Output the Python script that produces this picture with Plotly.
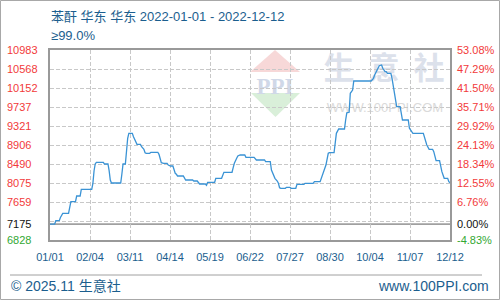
import plotly.graph_objects as go
import pandas as pd
import numpy as np

# ---------------- data ----------------
dates = [
    "2022-01-01", "2022-01-05", "2022-01-06", "2022-01-09", "2022-01-10", "2022-01-11",
    "2022-01-12", "2022-01-17", "2022-01-18", "2022-01-19", "2022-01-23", "2022-01-24",
    "2022-01-27", "2022-01-28", "2022-02-06", "2022-02-07", "2022-02-08", "2022-02-09",
    "2022-02-10", "2022-02-16", "2022-02-17", "2022-02-20", "2022-02-21", "2022-02-22",
    "2022-02-23", "2022-03-03", "2022-03-04", "2022-03-05", "2022-03-07", "2022-03-08",
    "2022-03-09", "2022-03-10", "2022-03-13", "2022-03-14", "2022-03-15", "2022-03-16",
    "2022-03-17", "2022-03-20", "2022-03-21", "2022-03-23", "2022-03-24", "2022-03-25",
    "2022-03-28", "2022-03-29", "2022-04-04", "2022-04-05", "2022-04-06", "2022-04-07",
    "2022-04-09", "2022-04-12", "2022-04-13", "2022-04-15", "2022-04-17", "2022-04-18",
    "2022-04-19", "2022-04-20", "2022-04-21", "2022-04-26", "2022-04-27", "2022-04-28",
    "2022-05-04", "2022-05-05", "2022-05-08", "2022-05-09", "2022-05-10", "2022-05-15",
    "2022-05-16", "2022-05-17", "2022-05-23", "2022-05-24", "2022-05-29", "2022-05-31",
    "2022-06-07", "2022-06-08", "2022-06-09", "2022-06-11", "2022-06-12", "2022-06-14",
    "2022-06-18", "2022-06-19", "2022-06-26", "2022-06-28", "2022-07-05", "2022-07-06",
    "2022-07-10", "2022-07-11", "2022-07-12", "2022-07-14", "2022-07-16", "2022-07-17",
    "2022-07-18", "2022-07-19", "2022-07-23", "2022-07-24", "2022-07-27", "2022-07-28",
    "2022-08-01", "2022-08-02", "2022-08-08", "2022-08-09", "2022-08-16", "2022-08-17",
    "2022-08-22", "2022-08-23", "2022-08-25", "2022-08-27", "2022-08-29", "2022-08-30",
    "2022-09-03", "2022-09-04", "2022-09-05", "2022-09-07", "2022-09-12", "2022-09-13",
    "2022-09-14", "2022-09-16", "2022-09-17", "2022-09-19", "2022-09-20", "2022-10-05",
    "2022-10-07", "2022-10-08", "2022-10-10", "2022-10-12", "2022-10-14", "2022-10-15",
    "2022-10-17", "2022-10-18", "2022-10-19", "2022-10-22", "2022-10-23", "2022-10-24",
    "2022-10-25", "2022-10-27", "2022-10-30", "2022-10-31", "2022-11-01", "2022-11-06",
    "2022-11-07", "2022-11-09", "2022-11-10", "2022-11-19", "2022-11-20", "2022-11-21",
    "2022-11-22", "2022-11-24", "2022-11-27", "2022-11-28", "2022-11-29", "2022-11-30",
    "2022-12-03", "2022-12-04", "2022-12-05", "2022-12-06", "2022-12-07", "2022-12-10",
    "2022-12-11", "2022-12-12",
]
prices = [
    7175, 7175, 7250, 7250, 7320, 7370,
    7410, 7410, 7520, 7666, 7666, 7790,
    7790, 7937, 7937, 8068, 8343, 8490,
    8527, 8527, 8490, 8490, 8343, 8140,
    8075, 8075, 8271, 8490, 8490, 8781,
    9052, 9161, 9161, 9087, 9030, 8965,
    8921, 8921, 8868, 8811, 8737, 8724,
    8724, 8746, 8746, 8702, 8615, 8518,
    8505, 8505, 8468, 8446, 8446, 8359,
    8287, 8265, 8228, 8228, 8177, 8140,
    8140, 8118, 8118, 8068, 8053, 8053,
    8024, 8090, 8090, 8177, 8177, 8309,
    8309, 8409, 8505, 8615, 8665, 8687,
    8687, 8637, 8637, 8578, 8578, 8540,
    8540, 8359, 8309, 8177, 8118, 8068,
    7972, 7959, 7959, 7980, 7980, 7959,
    7959, 8046, 8046, 8068, 8068, 8103,
    8103, 8177, 8343, 8468, 8724, 8737,
    8737, 8978, 9161, 9255, 9255, 9452,
    9610, 9620, 10036, 10108, 10305, 10305,
    10364, 10436, 10546, 10640, 10655, 10583,
    10508, 10508, 10473, 10473, 10364, 10180,
    10036, 9743, 9743, 9562, 9452, 9452,
    9271, 9196, 9161, 9161, 9087, 8978,
    8906, 8811, 8811, 8759, 8650, 8562,
    8562, 8396, 8322, 8249, 8177, 8177,
    8103, 8080,
]

base_price = 7175
y_min, y_max = 6828, 10983
left_tick_vals = [10983, 10568, 10152, 9737, 9321, 8906, 8490, 8075, 7659, 7175, 6828]
left_tick_text = ["10983", "10568", "10152", "9737", "9321", "8906", "8490", "8075", "7659", "7175", "6828"]
right_tick_text = ["53.08%", "47.29%", "41.50%", "35.71%", "29.92%", "24.13%", "18.34%",
                   "12.55%", "6.76%", "0.00%", "-4.83%"]
x_tick_text = ["01/01", "02/04", "03/11", "04/14", "05/19", "06/22", "07/27",
               "08/30", "10/04", "11/07", "12/12"]
start_date, end_date = "2022-01-01", "2022-12-12"

title_line1 = "苯酐 华东 华东 2022-01-01 - 2022-12-12"
title_line2 = "≥99.0%"
footer_left = "© 2025.11 生意社"
footer_right = "www.100PPI.com"

# ---------------- figure ----------------
W, H = 500, 300
ML, MR, MT, MB = 50, 50, 50, 60
PW, PH = W - ML - MR, H - MT - MB


def px(x):  # pixel x -> paper x
    return (x - ML) / PW


def py(y):  # pixel y -> paper y
    return (H - MB - y) / PH


BLUE = "#1b5e8e"
RED = "#f23a3a"
GREEN = "#33a833"
GRID = "#c8c8c8"
FONT = "Liberation Sans, Noto Sans CJK SC, sans-serif"

t0, t1 = pd.Timestamp(start_date), pd.Timestamp(end_date)
x_tick_vals = [t0 + (t1 - t0) * k / (len(x_tick_text) - 1) for k in range(len(x_tick_text))]
grid_vals = list(np.linspace(y_min, y_max, 11))

fig = go.Figure()
fig.add_trace(go.Scatter(
    x=pd.to_datetime(dates), y=prices, mode="lines",
    line=dict(color="#3a93d5", width=1.3),
    hoverinfo="skip", showlegend=False,
))

shapes = []
# outer border
shapes.append(dict(type="rect", xref="paper", yref="paper",
                   x0=px(0.5), x1=px(W - 0.5), y0=py(H - 0.5), y1=py(0.5),
                   line=dict(color="#a8a8a8", width=1), fillcolor="rgba(0,0,0,0)", layer="below"))
# footer separator
shapes.append(dict(type="line", xref="paper", yref="paper",
                   x0=px(10), x1=px(482), y0=py(275), y1=py(275),
                   line=dict(color="#a0a0a0", width=1)))
# base line
shapes.append(dict(type="line", xref="paper", yref="y", x0=0, x1=1,
                   y0=base_price, y1=base_price, line=dict(color="#a0a0a0", width=1.6),
                   layer="below"))
# watermark logo
shapes.append(dict(type="path", xref="paper", yref="paper", layer="below",
                   path=f"M {px(250)} {py(72)} L {px(275)} {py(50)} L {px(300)} {py(72)} Z",
                   fillcolor="#f7d8d8", line=dict(width=0)))
shapes.append(dict(type="path", xref="paper", yref="paper", layer="below",
                   path=f"M {px(251)} {py(93)} L {px(300)} {py(93)} L {px(275.5)} {py(117)} Z",
                   fillcolor="#d9efd9", line=dict(width=0)))
shapes.append(dict(type="rect", xref="paper", yref="paper", layer="below",
                   x0=px(250), x1=px(300), y0=py(92), y1=py(74),
                   fillcolor="rgba(0,0,0,0)", line=dict(width=0),
                   label=dict(text="<b>PPI</b>", font=dict(family="Liberation Serif, serif", size=23, color="#d0d8e8"),
                              textposition="middle center")))
shapes.append(dict(type="rect", xref="paper", yref="paper", layer="below",
                   x0=px(318), x1=px(450), y0=py(88), y1=py(52),
                   fillcolor="rgba(0,0,0,0)", line=dict(width=0),
                   label=dict(text="<b>生  意  社</b>", font=dict(family="Noto Sans CJK SC", size=31, color="#dce1eb"),
                              textposition="middle center")))
shapes.append(dict(type="rect", xref="paper", yref="paper", layer="below",
                   x0=px(320), x1=px(450), y0=py(113), y1=py(99),
                   fillcolor="rgba(0,0,0,0)", line=dict(width=0),
                   label=dict(text="WWW.100PPI.COM", font=dict(family="Liberation Sans", size=13, color="#dadada"),
                              textposition="middle center")))

annotations = []


def label_color(v):
    if v > base_price:
        return RED
    if v < base_price:
        return GREEN
    return "#111111"


for v, lt, rt in zip(left_tick_vals, left_tick_text, right_tick_text):
    c = label_color(v)
    annotations.append(dict(xref="paper", yref="y", x=px(5), y=v, text=lt, showarrow=False,
                            xanchor="left", yanchor="middle",
                            font=dict(family=FONT, size=11, color=c)))
    annotations.append(dict(xref="paper", yref="y", x=px(455), y=v, text=rt, showarrow=False,
                            xanchor="left", yanchor="middle",
                            font=dict(family=FONT, size=11, color=c)))

annotations.append(dict(xref="paper", yref="paper", x=px(49), y=py(16), text=title_line1,
                        showarrow=False, xanchor="left", yanchor="middle",
                        font=dict(family=FONT, size=13, color=BLUE)))
annotations.append(dict(xref="paper", yref="paper", x=px(49), y=py(35), text=title_line2,
                        showarrow=False, xanchor="left", yanchor="middle",
                        font=dict(family=FONT, size=13, color=BLUE)))
annotations.append(dict(xref="paper", yref="paper", x=px(9), y=py(286), text=footer_left,
                        showarrow=False, xanchor="left", yanchor="middle",
                        font=dict(family=FONT, size=14, color=BLUE)))
annotations.append(dict(xref="paper", yref="paper", x=px(491), y=py(286), text=footer_right,
                        showarrow=False, xanchor="right", yanchor="middle",
                        font=dict(family=FONT, size=14, color=BLUE)))

fig.update_layout(
    width=W, height=H,
    margin=dict(l=ML, r=MR, t=MT, b=MB, pad=0),
    paper_bgcolor="white", plot_bgcolor="white",
    showlegend=False,
    shapes=shapes, annotations=annotations,
    xaxis=dict(
        type="date", range=[t0, t1],
        tickmode="array", tickvals=x_tick_vals, ticktext=x_tick_text,
        tickfont=dict(family=FONT, size=11, color=BLUE),
        ticks="outside", ticklen=6, tickcolor="rgba(0,0,0,0)",
        showgrid=True, gridcolor=GRID, gridwidth=1, griddash="4px,2px",
        showline=True, linecolor="#999999", linewidth=1.5, mirror=True,
        zeroline=False, fixedrange=True,
    ),
    yaxis=dict(
        range=[y_min, y_max],
        tickmode="array", tickvals=grid_vals, showticklabels=False,
        showgrid=True, gridcolor=GRID, gridwidth=1, griddash="4px,2px",
        showline=True, linecolor="#999999", linewidth=1.5, mirror=True,
        zeroline=False, ticks="", fixedrange=True,
    ),
)

fig.write_html("out.html")
